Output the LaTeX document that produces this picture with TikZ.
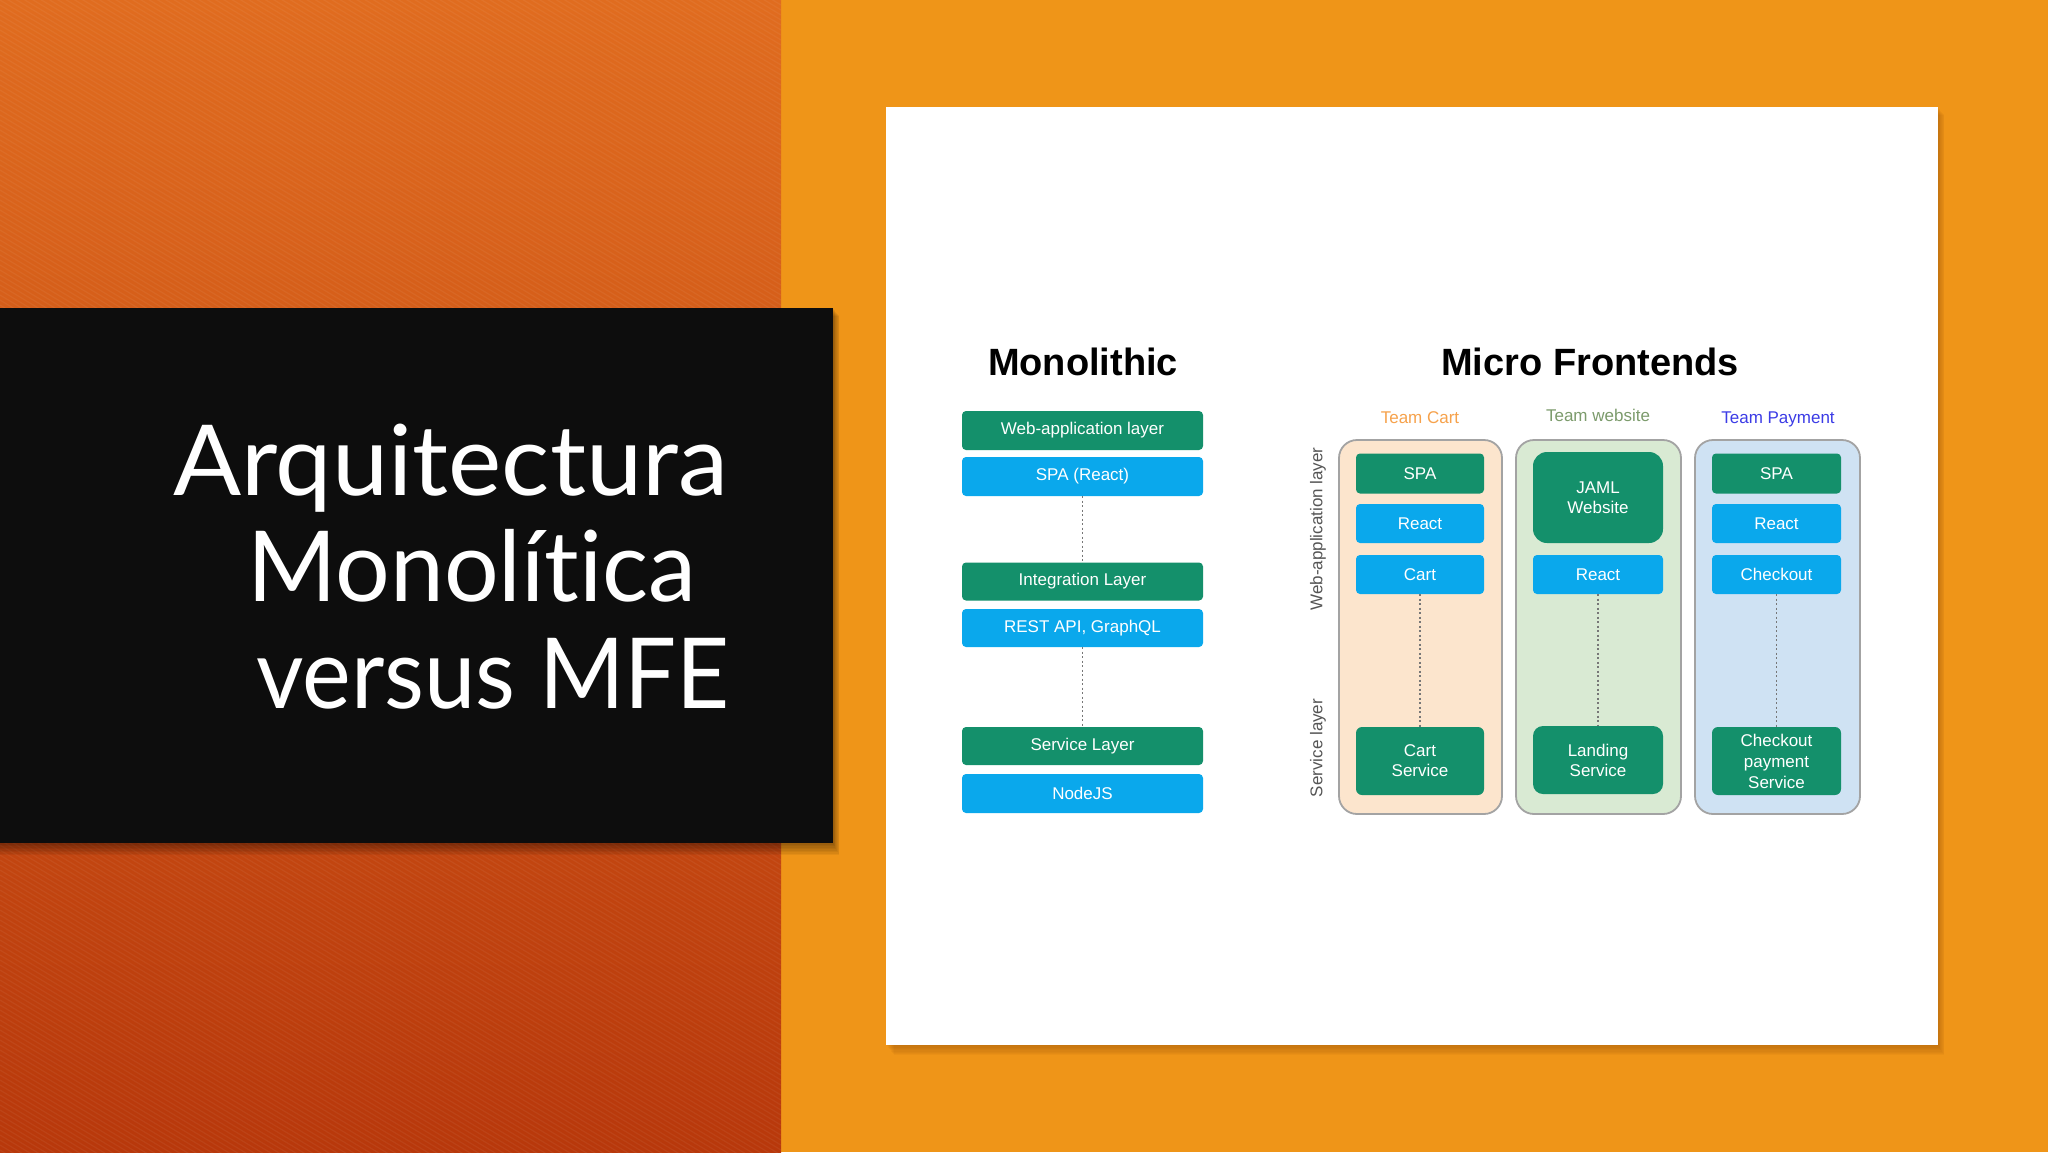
\documentclass[tikz,border=0pt]{standalone}
\usepackage{fontspec}
\setmainfont{Liberation Sans}
\newfontfamily\titlefont[Ligatures=NoCommon]{Lato}
\definecolor{bgR}{HTML}{EF9518}
\definecolor{bgTop}{HTML}{E06C1F}
\definecolor{bgBot}{HTML}{B8380B}
\definecolor{blackbox}{HTML}{0D0D0D}
\definecolor{mgreen}{HTML}{14906B}
\definecolor{mblue}{HTML}{0AA8EC}
\definecolor{dotc}{HTML}{777777}
\definecolor{colborder}{HTML}{A3A3A3}
\definecolor{cartfill}{HTML}{FCE5CD}
\definecolor{webfill}{HTML}{D9EAD3}
\definecolor{payfill}{HTML}{CFE2F3}
\definecolor{cartc}{HTML}{F6A24C}
\definecolor{webc}{HTML}{7C9B6C}
\definecolor{payc}{HTML}{3C3CE6}
\definecolor{sidec}{HTML}{555555}
\definecolor{shadowc}{HTML}{8A4A05}
\begin{document}
\begin{tikzpicture}[x=1pt,y=-1pt,
  mbox/.style={rectangle, rounded corners=4pt, text=white, font=\fontsize{17}{20}\selectfont, inner sep=0pt, align=center},
  gbox/.style={mbox, fill=mgreen},
  bbox/.style={mbox, fill=mblue},
  dots/.style={draw=dotc, line width=1.6pt, dash pattern=on 2pt off 2.5pt},
  col/.style={draw=colborder, line width=1.8pt, rounded corners=18pt},
  team/.style={font=\fontsize{17}{20}\selectfont, anchor=base},
  side/.style={rotate=90, font=\fontsize{17}{20}\selectfont, text=sidec},
  htitle/.style={font=\fontsize{38}{44}\selectfont\bfseries, anchor=base, inner sep=0pt},
  ttl/.style={anchor=base west, font=\titlefont\fontsize{98}{110}\selectfont, text=white, inner sep=0pt}
]
\useasboundingbox (0,0) rectangle (2048,1152);
% backgrounds
\fill[bgR] (0,0) rectangle (2048,1152);
\shade[top color=bgTop, bottom color=bgBot] (0,0) rectangle (781,1152);
\begin{scope}
  \clip (0,0) rectangle (781,1152);
  \foreach \c in {-480,-475,...,1160}
    \draw[white, opacity=0.05, line width=1.2pt] (0,\c) -- (781,\c+470);
\end{scope}
% black title box with soft shadow
\foreach \i in {1,...,8}
  \fill[black, opacity=0.05] (0,308+\i) rectangle (833+0.8*\i,843+1.5*\i);
\fill[blackbox] (0,308) rectangle (833,843);
\node[ttl] (t1) at (173,495) {\scalebox{1.028}[1]{Arquitectura}};
\node[ttl] (t2) at (247,601) {\scalebox{0.985}[1]{Monolítica}};
\node[ttl] (t3) at (256,708) {\scalebox{0.94}[1]{versus MFE}};
% white card with shadow
\foreach \i in {1,...,8}
  \fill[shadowc, opacity=0.06] (886+\i,107+\i) rectangle (1938+0.8*\i,1045+1.3*\i);
\fill[white] (886,107) rectangle (1938,1045);

% ---------- Monolithic ----------
\node[htitle] (monot) at (1083,375) {Monolithic};
\node[gbox, minimum width=241pt, minimum height=39pt] (m1) at (1082.5,430.5) {Web-application layer};
\node[bbox, minimum width=241pt, minimum height=39pt] (m2) at (1082.5,476.5) {SPA (React)};
\node[gbox, minimum width=241pt, minimum height=38pt] (m3) at (1082.5,581.5) {Integration Layer};
\node[bbox, minimum width=241pt, minimum height=38pt] (m4) at (1082.5,628) {REST API, GraphQL};
\node[gbox, minimum width=241pt, minimum height=38pt] (m5) at (1082.5,746) {Service Layer};
\node[bbox, minimum width=241pt, minimum height=39pt] (m6) at (1082.5,793.5) {NodeJS};
\draw[dots] (m2.south) -- (m3.north);
\draw[dots] (m4.south) -- (m5.north);

% ---------- Micro Frontends ----------
\node[htitle] (mfet) at (1590,375) {Micro Frontends};
\node[team, text=cartc] (tc) at (1420,423) {Team Cart};
\node[team, text=webc] (tw) at (1598,421) {Team website};
\node[team, text=payc] (tp) at (1778,423) {Team Payment};
\node[side] (sweb) at (1318,529) {Web-application layer};
\node[side] (ssvc) at (1318,748) {Service layer};

\filldraw[col, fill=cartfill] (1339,440) rectangle (1502,814);
\filldraw[col, fill=webfill] (1516,440) rectangle (1681,814);
\filldraw[col, fill=payfill] (1695,440) rectangle (1860,814);

% Cart column
\node[gbox, minimum width=128pt, minimum height=40pt] (c1) at (1420,473.5) {SPA};
\node[bbox, minimum width=128pt, minimum height=39pt] (c2) at (1420,523.5) {React};
\node[bbox, minimum width=128pt, minimum height=39pt] (c3) at (1420,574.5) {Cart};
\node[gbox, minimum width=128pt, minimum height=68pt, rounded corners=6pt] (c4) at (1420,761) {Cart\\Service};
\draw[dots] (c3.south) -- (c4.north);
% Website column
\node[gbox, minimum width=130pt, minimum height=91pt, rounded corners=14pt] (w1) at (1598,497.5) {JAML\\Website};
\node[bbox, minimum width=130pt, minimum height=39pt] (w2) at (1598,574.5) {React};
\node[gbox, minimum width=130pt, minimum height=68pt, rounded corners=10pt] (w3) at (1598,760) {Landing\\Service};
\draw[dots] (w2.south) -- (w3.north);
% Payment column
\node[gbox, minimum width=129pt, minimum height=40pt] (p1) at (1776.5,473.5) {SPA};
\node[bbox, minimum width=129pt, minimum height=39pt] (p2) at (1776.5,523.5) {React};
\node[bbox, minimum width=129pt, minimum height=39pt] (p3) at (1776.5,574.5) {Checkout};
\node[gbox, minimum width=129pt, minimum height=68pt, rounded corners=6pt, font=\fontsize{17}{21}\selectfont] (p4) at (1776.5,761) {Checkout\\payment\\Service};
\draw[dots] (p3.south) -- (p4.north);
\end{tikzpicture}
\end{document}
